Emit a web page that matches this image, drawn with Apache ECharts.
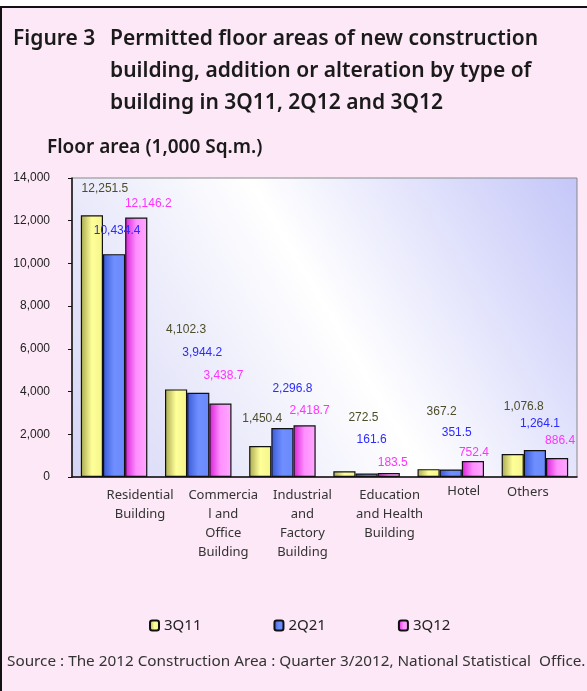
<!DOCTYPE html>
<html>
<head>
<meta charset="utf-8">
<script src="https://cdn.jsdelivr.net/npm/echarts@6/dist/echarts.min.js"></script>
<style>
  html, body { margin: 0; padding: 0; background: #fff; }
  .frame {
    position: absolute; left: 0; top: 6px; width: 585px; height: 685px;
    background: #fce8f6; border-top: 2px solid #111; border-left: 2px solid #111;
  }
  #chart { position: absolute; left: 0; top: 0; width: 587px; height: 691px; }
</style>
</head>
<body>
<div class="frame"></div>
<div id="chart"></div>
<script>
// categories and values (1,000 Sq.m.)
var categories = [
  'Residential\nBuilding',
  'Commercia\nl and\nOffice\nBuilding',
  'Industrial\nand\nFactory\nBuilding',
  'Education\nand Health\nBuilding',
  'Hotel',
  'Others'
];
var seriesNames = ['3Q11', '2Q21', '3Q12'];
var q3_11 = [12251.5, 4102.3, 1450.4, 272.5, 367.2, 1076.8];
var q2_12 = [10434.4, 3944.2, 2296.8, 161.6, 351.5, 1264.1];
var q3_12 = [12146.2, 3438.7, 2418.7, 183.5, 752.4, 886.4];

// label placement (as moved by hand in the original)
var labelOffsets = [
  [[13, -16], [10, -49], [2, -16], [19, -42], [13, -46], [11, -36]],
  [[3, -12], [4, -29], [10, -28], [5, -23], [6, -26], [5, -15]],
  [[12, -3], [3, -17], [5, -4], [4, 1], [1, 3], [3, -6]]
];
var catShift = [26, 25, 20, 23, 13, -7];
var catDrop = [4, 4, 4, 4, 0, 1];

var fmt = new Intl.NumberFormat('en-US', { minimumFractionDigits: 1, maximumFractionDigits: 1 });

var fills = [
  ['#a8a850', '#ffff99', '#f4f48a'],
  ['#3a5ad8', '#6f8fff', '#6a88fa'],
  ['#d820d8', '#ff90ff', '#ffa8ff']
];
var labelColors = ['#4d4d2a', '#2b2bff', '#ff33ff'];

function grad(c) {
  return new echarts.graphic.LinearGradient(0, 0, 1, 0, [
    { offset: 0, color: c[0] },
    { offset: 0.5, color: c[1] },
    { offset: 1, color: c[2] }
  ]);
}

var allData = [q3_11, q2_12, q3_12];
var series = allData.map(function (vals, s) {
  return {
    name: seriesNames[s],
    type: 'bar',
    barGap: 0,
    barCategoryGap: '21%',
    itemStyle: { color: grad(fills[s]), borderColor: '#111', borderWidth: 1.2 },
    label: {
      show: true,
      position: 'top',
      color: labelColors[s],
      fontFamily: 'Liberation Sans, Arial, sans-serif',
      fontSize: 12,
      formatter: function (p) { return fmt.format(p.value); }
    },
    data: vals.map(function (v, i) {
      return { value: v, label: { offset: labelOffsets[s][i] } };
    })
  };
});

var titleFont = { fontFamily: 'Noto Sans', fontSize: 21, fontWeight: 600, color: '#1a1a1a', lineHeight: 32 };

var chart = echarts.init(document.getElementById('chart'));
chart.setOption({
  backgroundColor: 'transparent',
  animation: false,
  title: [
    { text: 'Figure 3', left: 13, top: 23, padding: 0, textStyle: titleFont },
    {
      text: 'Permitted floor areas of new construction\nbuilding, addition or alteration by type of\nbuilding in 3Q11, 2Q12 and 3Q12',
      left: 110, top: 23, padding: 0, textStyle: titleFont
    },
    {
      text: 'Floor area (1,000 Sq.m.)', left: 47, top: 138, padding: 0,
      textStyle: { fontFamily: 'Noto Sans', fontSize: 19, fontWeight: 600, color: '#1a1a1a' }
    },
    {
      text: 'Source : The 2012 Construction Area : Quarter 3/2012, National Statistical  Office.',
      left: 7, top: 654, padding: 0,
      textStyle: { fontFamily: 'Noto Sans', fontSize: 15.3, fontWeight: 'normal', color: '#333' }
    }
  ],
  legend: {
    left: 149, top: 618, padding: 0,
    itemWidth: 9, itemHeight: 10, itemGap: 72,
    textStyle: { fontFamily: 'Noto Sans', fontSize: 15, color: '#222' },
    data: seriesNames
  },
  grid: {
    left: 72, right: 10, top: 178, bottom: 214,
    show: true, borderColor: '#888', borderWidth: 1,
    backgroundColor: new echarts.graphic.LinearGradient(1, 0, 0, 1, [
      { offset: 0, color: '#c4c6f8' },
      { offset: 0.48, color: '#ffffff' },
      { offset: 1, color: '#d4d5f6' }
    ])
  },
  xAxis: {
    type: 'category',
    data: categories.map(function (c, i) {
      var sh = catShift[i];
      return {
        value: c,
        textStyle: {
          padding: [catDrop[i], sh < 0 ? -2 * sh : 0, 0, sh > 0 ? 2 * sh : 0]
        }
      };
    }),
    axisLine: { lineStyle: { color: '#111', width: 1.5 } },
    axisTick: { show: false },
    axisLabel: {
      interval: 0, margin: 5,
      fontFamily: 'Noto Sans', fontSize: 13, lineHeight: 19, color: '#333'
    }
  },
  yAxis: {
    type: 'value',
    min: 0, max: 14000, interval: 2000,
    axisLine: { show: true, lineStyle: { color: '#111', width: 1.5 } },
    axisTick: { show: true, length: 4, lineStyle: { color: '#111' } },
    splitLine: { show: false },
    axisLabel: {
      margin: 22,
      fontFamily: 'Liberation Sans, Arial, sans-serif', fontSize: 12, color: '#222',
      formatter: function (v) { return fmt.format(v).replace('.0', ''); }
    }
  },
  series: series
});
</script>
</body>
</html>
